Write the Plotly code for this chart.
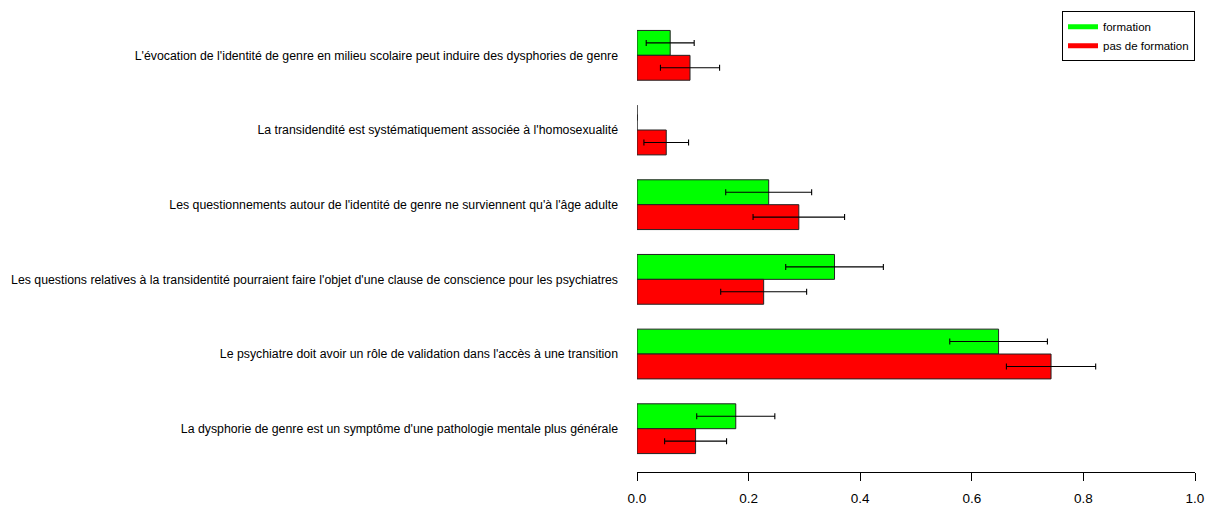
import plotly.graph_objects as go

categories = [
    "L'évocation de l'identité de genre en milieu scolaire peut induire des dysphories de genre",
    "La transidendité est systématiquement associée à l'homosexualité",
    "Les questionnements autour de l'identité de genre ne surviennent qu'à l'âge adulte",
    "Les questions relatives à la transidentité pourraient faire l'objet d'une clause de conscience pour les psychiatres",
    "Le psychiatre doit avoir un rôle de validation dans l'accès à une transition",
    "La dysphorie de genre est un symptôme d'une pathologie mentale plus générale",
]
formation = [0.0595, 0.0, 0.236, 0.354, 0.648, 0.177]
formation_err = [0.043, 0.0, 0.077, 0.0875, 0.0875, 0.070]
pas_formation = [0.095, 0.0524, 0.290, 0.227, 0.742, 0.105]
pas_formation_err = [0.053, 0.040, 0.082, 0.077, 0.080, 0.0555]
series_names = ["formation", "pas de formation"]
x_ticks = [0.0, 0.2, 0.4, 0.6, 0.8, 1.0]
x_ticklabels = ["0.0", "0.2", "0.4", "0.6", "0.8", "1.0"]

GREEN = "#00FF00"
RED = "#FF0000"
EDGE = "#222222"
FONT = "Liberation Sans, Arial, sans-serif"

fig = go.Figure()

err_style = dict(type="data", symmetric=True, color="#000000", thickness=1.1, width=3)

fig.add_trace(go.Bar(
    y=categories, x=formation, orientation="h", name=series_names[0],
    marker=dict(color=GREEN, line=dict(color=EDGE, width=1)),
    error_x=dict(array=formation_err, **err_style),
    showlegend=False,
))
fig.add_trace(go.Bar(
    y=categories, x=pas_formation, orientation="h", name=series_names[1],
    marker=dict(color=RED, line=dict(color=EDGE, width=1)),
    error_x=dict(array=pas_formation_err, **err_style),
    showlegend=False,
))

# legend entries drawn as thick lines
fig.add_trace(go.Scatter(x=[None], y=[None], mode="lines", name=series_names[0],
                         line=dict(color=GREEN, width=5)))
fig.add_trace(go.Scatter(x=[None], y=[None], mode="lines", name=series_names[1],
                         line=dict(color=RED, width=5)))

fig.update_layout(
    width=1217, height=510,
    margin=dict(l=623, r=30, t=3, b=46),
    paper_bgcolor="white", plot_bgcolor="white",
    barmode="group", bargap=1/3, bargroupgap=0,
    font=dict(family=FONT, color="#000000", size=12),
    legend=dict(
        x=1.0, xanchor="right", y=1.015, yanchor="top",
        bgcolor="white", bordercolor="#000000", borderwidth=1,
        font=dict(size=11.5, family=FONT), traceorder="normal",
        tracegroupgap=0, itemwidth=30,
    ),
    xaxis=dict(
        range=[0, 1], tickvals=x_ticks, ticktext=x_ticklabels,
        showgrid=False, zeroline=False, showline=True, linecolor="#000000",
        linewidth=1, ticks="outside", ticklen=8, tickcolor="#000000",
        tickfont=dict(size=13.5), ticklabelstandoff=6,
    ),
    yaxis=dict(
        type="category", categoryorder="array", categoryarray=categories,
        range=[5.58, -0.5], showgrid=False, zeroline=False, showline=False,
        ticks="", ticklabelstandoff=18, tickfont=dict(size=12.3),
    ),
)

fig.write_html("out.html")
